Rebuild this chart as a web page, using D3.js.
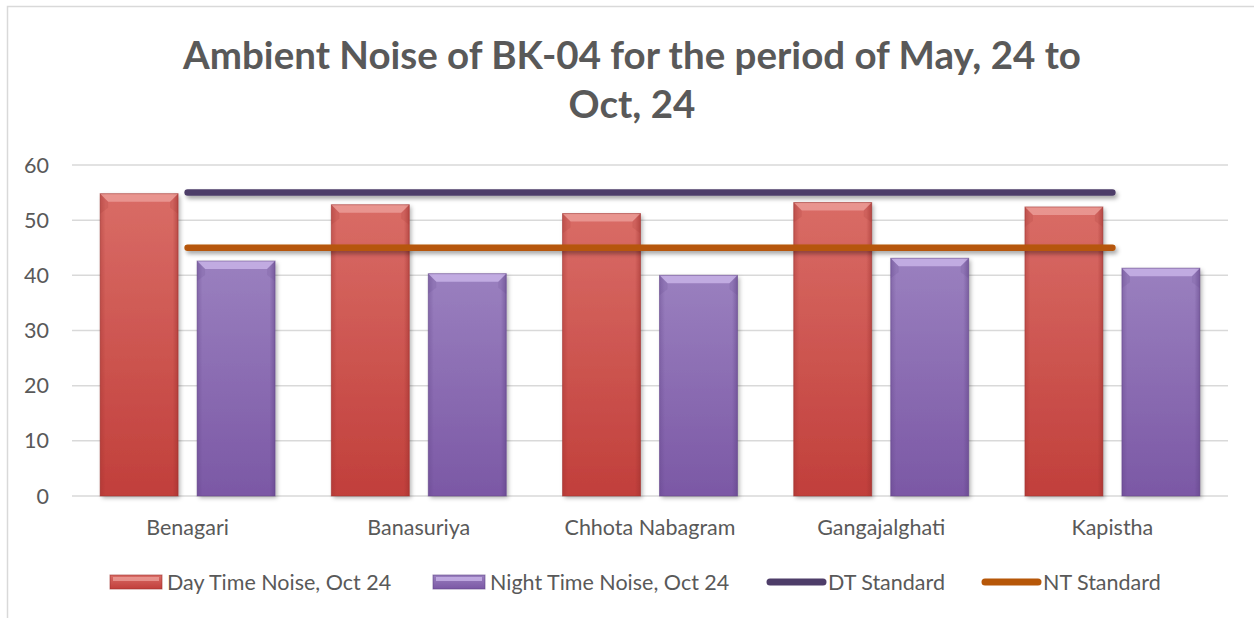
<!DOCTYPE html>
<html>
<head>
  <meta charset="utf-8">
  <title>Ambient Noise of BK-04</title>
  <script src="https://d3js.org/d3.v7.min.js"></script>
  <style>
    body, html { margin: 0; padding: 0; background: #fff; }
    svg { display: block; }
    text { font-family: Lato, "Open Sans", sans-serif; fill: #595959; }
    .title { font-weight: bold; font-size: 38.5px; }
    .tick { font-size: 21.5px; }
    .grid { stroke: #d9d9d9; stroke-width: 1.5px; }
  </style>
</head>
<body>
<svg width="1254" height="618"></svg>
<script>
  // chart values
  const sites = ["Benagari", "Banasuriya", "Chhota Nabagram", "Gangajalghati", "Kapistha"];
  const dayNoise = [54.8, 52.8, 51.2, 53.2, 52.4];
  const nightNoise = [42.6, 40.3, 40.0, 43.1, 41.3];
  const dtStandard = [55, 55, 55, 55, 55];
  const ntStandard = [45, 45, 45, 45, 45];
  const yTicks = [0, 10, 20, 30, 40, 50, 60];
  const barSeries = ["Day Time Noise, Oct 24", "Night Time Noise, Oct 24"];
  const lineSeries = ["DT Standard", "NT Standard"];

  const svg = d3.select("svg");
  const defs = svg.append("defs");

  // frame of the chart area
  svg.append("path")
    .attr("d", "M7.5,630 V6.5 H1260")
    .attr("fill", "none")
    .attr("stroke", "#d9d9d9")
    .attr("stroke-width", 1.5);

  const x0 = d3.scaleBand().domain(sites).range([72, 1228]);
  const x1 = d3.scaleBand().domain(barSeries)
    .range([0, x0.bandwidth()])
    .paddingInner(0.196)
    .paddingOuter(0.29);
  const y = d3.scaleLinear().domain([0, 60]).range([496, 165]);

  // gradients + shadow
  const palette = {
    "Day Time Noise, Oct 24": { top: "#d96c66", bot: "#c13f3b", bevel: "#f0a6a1", edge: "#9c302d" },
    "Night Time Noise, Oct 24": { top: "#9a80bf", bot: "#7b58a5", bevel: "#d2bdef", edge: "#5f4285" }
  };
  barSeries.forEach((s, i) => {
    const g = defs.append("linearGradient").attr("id", "bg" + i)
      .attr("x1", 0).attr("y1", 0).attr("x2", 0).attr("y2", 1);
    g.append("stop").attr("offset", "0%").attr("stop-color", palette[s].top);
    g.append("stop").attr("offset", "100%").attr("stop-color", palette[s].bot);
    const h = defs.append("linearGradient").attr("id", "sg" + i)
      .attr("x1", 0).attr("y1", 0).attr("x2", 1).attr("y2", 0);
    h.append("stop").attr("offset", "0%").attr("stop-color", palette[s].edge).attr("stop-opacity", 0.35);
    h.append("stop").attr("offset", "7%").attr("stop-color", palette[s].edge).attr("stop-opacity", 0);
    h.append("stop").attr("offset", "93%").attr("stop-color", palette[s].edge).attr("stop-opacity", 0);
    h.append("stop").attr("offset", "100%").attr("stop-color", palette[s].edge).attr("stop-opacity", 0.5);
  });
  const sh = defs.append("filter").attr("id", "shadow")
    .attr("x", "-10%").attr("y", "-10%").attr("width", "130%").attr("height", "130%");
  sh.append("feDropShadow").attr("dx", 2).attr("dy", 2).attr("stdDeviation", 2)
    .attr("flood-color", "#000").attr("flood-opacity", 0.3);
  const lsh = defs.append("filter").attr("id", "lshadow")
    .attr("filterUnits", "userSpaceOnUse")
    .attr("x", 0).attr("y", 0).attr("width", 1254).attr("height", 618);
  lsh.append("feDropShadow").attr("dx", 2).attr("dy", 3).attr("stdDeviation", 2.2)
    .attr("flood-color", "#000").attr("flood-opacity", 0.35);

  // title
  const title = svg.append("text").attr("class", "title").attr("text-anchor", "middle");
  title.append("tspan").attr("x", 632).attr("y", 69).text("Ambient Noise of BK-04 for the period of May, 24 to");
  title.append("tspan").attr("x", 632).attr("y", 118).text("Oct, 24");

  // grid + y labels
  svg.append("g").selectAll("line").data(yTicks).join("line")
    .attr("class", "grid")
    .attr("x1", 72).attr("x2", 1228)
    .attr("y1", d => y(d)).attr("y2", d => y(d));
  svg.append("g").selectAll("text").data(yTicks).join("text")
    .attr("class", "tick")
    .attr("x", 49).attr("y", d => y(d))
    .attr("dy", "0.35em").attr("text-anchor", "end")
    .text(d => d);

  // category labels
  svg.append("g").selectAll("text").data(sites).join("text")
    .attr("class", "tick")
    .attr("x", d => x0(d) + x0.bandwidth() / 2).attr("y", 535)
    .attr("text-anchor", "middle")
    .text(d => d);

  // bars
  const barData = [];
  sites.forEach((s, i) => {
    barData.push({ site: s, series: barSeries[0], idx: 0, v: dayNoise[i] });
    barData.push({ site: s, series: barSeries[1], idx: 1, v: nightNoise[i] });
  });
  const bars = svg.append("g").selectAll("g").data(barData).join("g")
    .attr("transform", d => `translate(${x0(d.site) + x1(d.series)},${y(d.v)})`);
  const bw = x1.bandwidth();
  bars.append("rect")
    .attr("width", bw).attr("height", d => y(0) - y(d.v))
    .attr("fill", d => `url(#bg${d.idx})`)
    .attr("filter", "url(#shadow)");
  bars.append("rect")
    .attr("width", bw).attr("height", d => y(0) - y(d.v))
    .attr("fill", d => `url(#sg${d.idx})`);
  // top bevel
  bars.append("path")
    .attr("d", `M0,0 H${bw} L${bw - 8},8 H8 Z`)
    .attr("fill", d => palette[d.series].bevel)
    .attr("opacity", 0.7);
  bars.append("path")
    .attr("d", `M0,0 L8,8 V${14} L0,${20} Z M${bw},0 L${bw - 8},8 V14 L${bw},20 Z`)
    .attr("fill", d => palette[d.series].edge)
    .attr("opacity", 0.15);
  bars.append("rect")
    .attr("width", bw).attr("height", d => y(0) - y(d.v))
    .attr("fill", "none")
    .attr("stroke", d => palette[d.series].edge)
    .attr("stroke-opacity", 0.5)
    .attr("stroke-width", 1);

  // standard lines
  const lineColors = { "DT Standard": "#4e3d69", "NT Standard": "#b65708" };
  const lineVals = { "DT Standard": dtStandard, "NT Standard": ntStandard };
  const line = d3.line()
    .x((d, i) => x0(sites[i]) + x0.bandwidth() / 2)
    .y(d => y(d));
  lineSeries.forEach(s => {
    svg.append("path")
      .datum(lineVals[s])
      .attr("d", line)
      .attr("fill", "none")
      .attr("stroke", lineColors[s])
      .attr("stroke-width", 6.5)
      .attr("stroke-linecap", "round")
      .attr("filter", "url(#lshadow)");
  });

  // legend
  const legY = 582;
  const legend = svg.append("g");
  const legItems = [
    { name: barSeries[0], type: "bar", idx: 0, x: 110, w: 52 },
    { name: barSeries[1], type: "bar", idx: 1, x: 433, w: 52 },
    { name: lineSeries[0], type: "line", x: 770, w: 53 },
    { name: lineSeries[1], type: "line", x: 985, w: 53 }
  ];
  legItems.forEach(it => {
    if (it.type === "bar") {
      legend.append("rect")
        .attr("x", it.x).attr("y", legY - 7).attr("width", it.w).attr("height", 14)
        .attr("fill", `url(#bg${it.idx})`)
        .attr("stroke", palette[it.name].edge).attr("stroke-opacity", 0.6);
      legend.append("rect")
        .attr("x", it.x + 3).attr("y", legY - 5).attr("width", it.w - 6).attr("height", 4)
        .attr("fill", palette[it.name].bevel).attr("opacity", 0.7);
      legend.append("text").attr("class", "tick")
        .attr("x", it.x + it.w + 5).attr("y", legY).attr("dy", "0.35em").text(it.name);
    } else {
      legend.append("line")
        .attr("x1", it.x).attr("x2", it.x + it.w)
        .attr("y1", legY).attr("y2", legY)
        .attr("stroke", lineColors[it.name]).attr("stroke-width", 7)
        .attr("stroke-linecap", "round");
      legend.append("text").attr("class", "tick")
        .attr("x", it.x + it.w + 5).attr("y", legY).attr("dy", "0.35em").text(it.name);
    }
  });
</script>
</body>
</html>
